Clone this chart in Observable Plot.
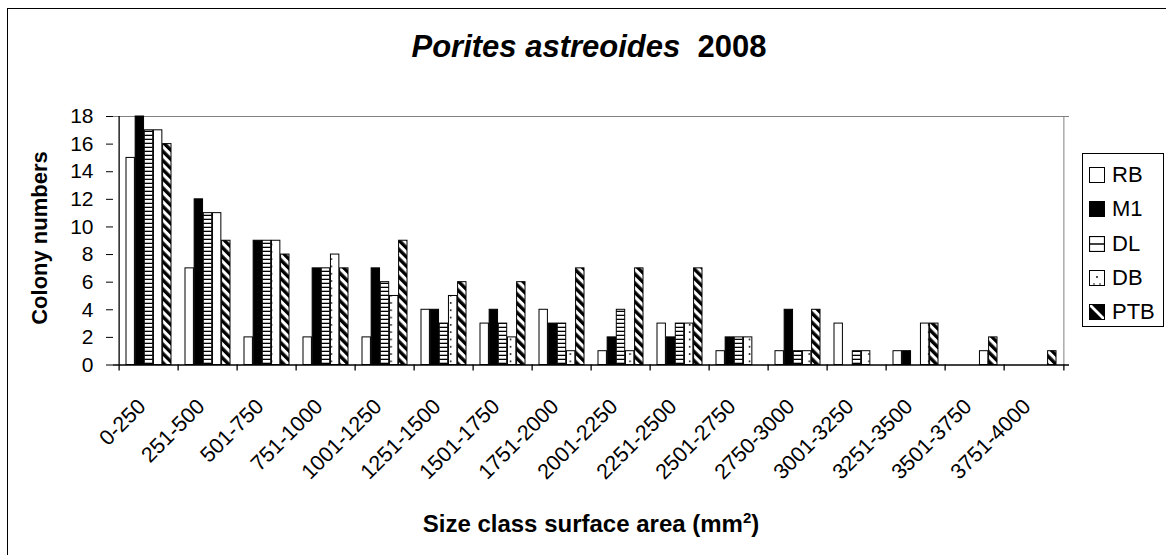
<!DOCTYPE html>
<html>
<head>
<meta charset="utf-8">
<script src="https://cdn.jsdelivr.net/npm/d3@7"></script>
<script src="https://cdn.jsdelivr.net/npm/@observablehq/plot@0.6"></script>
<style>
  html, body { margin: 0; padding: 0; background: #fff; }
  body { font-family: "Liberation Sans", Arial, sans-serif; color: #000; }
  #wrap { position: relative; width: 1166px; height: 555px; overflow: hidden; background: #fff; }
  #chart { position: absolute; left: 0; top: 0; }
  #border { position: absolute; left: 7px; top: 8px; width: 1180px; height: 580px; border: 1.5px solid #000; box-sizing: border-box; pointer-events: none; }
  #title { position: absolute; top: 31px; left: 0; width: 1178px; text-align: center; font-size: 31px; line-height: 31px; font-weight: bold; white-space: nowrap; }
  #ytitle { position: absolute; left: 40px; top: 238px; transform: translate(-50%, -50%) rotate(-90deg); font-size: 22px; font-weight: bold; white-space: nowrap; }
  #xtitle { position: absolute; left: 0; width: 1182px; top: 512px; text-align: center; font-size: 24px; line-height: 24px; font-weight: bold; white-space: nowrap; }
  #xtitle sup { font-size: 15px; line-height: 0; vertical-align: 9px; }
  #legend { position: absolute; left: 1082px; top: 153px; width: 82px; height: 174px; border: 1px solid #000; box-sizing: border-box; background: #fff; }
  .lg { position: absolute; left: 6px; height: 22px; font-size: 22px; line-height: 22px; white-space: nowrap; }
  .lg svg { position: absolute; left: 0; top: 3px; }
  .lg span { position: absolute; left: 23px; top: 0; }
</style>
</head>
<body>
<div id="wrap">
  <div id="chart"></div>
  <div id="border"></div>
  <div id="title"><i>Porites astreoides</i>&nbsp; 2008</div>
  <div id="ytitle">Colony numbers</div>
  <div id="xtitle">Size class surface area (mm<sup>2</sup>)</div>
  <div id="legend"></div>
</div>
<script>
// ---- data ----
const categories = ["0-250","251-500","501-750","751-1000","1001-1250","1251-1500","1501-1750","1751-2000","2001-2250","2251-2500","2501-2750","2750-3000","3001-3250","3251-3500","3501-3750","3751-4000"];
const seriesNames = ["RB","M1","DL","DB","PTB"];
const RB  = [15, 7, 2, 2, 2, 4, 3, 4, 1, 3, 1, 1, 3, 1, 0, 0];
const M1  = [18,12, 9, 7, 7, 4, 4, 3, 2, 2, 2, 4, 0, 1, 0, 0];
const DL  = [17,11, 9, 7, 6, 3, 3, 3, 4, 3, 2, 1, 1, 0, 0, 0];
const DB  = [17,11, 9, 8, 5, 5, 2, 1, 1, 3, 2, 1, 1, 3, 1, 0];
const PTB = [16, 9, 8, 7, 9, 6, 6, 7, 7, 7, 0, 4, 0, 3, 2, 1];
const yTicks = [0, 2, 4, 6, 8, 10, 12, 14, 16, 18];

const seriesValues = [RB, M1, DL, DB, PTB];
const rows = [];
seriesNames.forEach((s, si) => categories.forEach((c, ci) => rows.push({series: s, cat: c, value: seriesValues[si][ci]})));

// ---- layout ----
const W = 1166, H = 555, ML = 113, MR = 97, MT = 116, MB = 190.5;
const step = (W - ML - MR) / categories.length;
const groupOff = 7;
const bw = (step - 2 * groupOff) / seriesNames.length;
const fills = ["#fff", "#000", "url(#pDL)", "url(#pDB)", "url(#pPTB)"];

const marks = [
  Plot.ruleY([18], {stroke: "#808080", strokeWidth: 1}),
  Plot.ruleX([categories[categories.length - 1]], {dx: step / 2, stroke: "#808080", strokeWidth: 1})
];
seriesNames.forEach((s, i) => {
  marks.push(Plot.barY(rows.filter(d => d.series === s && d.value > 0), {
    x: "cat", y: "value", fill: fills[i], stroke: "#000", strokeWidth: 1,
    insetLeft: groupOff + bw * i, insetRight: step - groupOff - bw * (i + 1)
  }));
});
marks.push(
  Plot.ruleY([0], {stroke: "#000", strokeWidth: 1.3}),
  Plot.ruleX([categories[0]], {dx: -step / 2, stroke: "#000", strokeWidth: 1.3}),
  Plot.ruleX(categories, {x: d => d, dx: -step / 2, y1: 0, y2: 0, insetBottom: -6, stroke: "#000", strokeWidth: 1.3}),
  Plot.ruleX([categories[categories.length - 1]], {dx: step / 2, y1: 0, y2: 0, insetBottom: -6, stroke: "#000", strokeWidth: 1.3}),
  Plot.axisY({ticks: yTicks, tickSize: 7, tickPadding: 13, fontSize: 21, label: null, tickFormat: d => String(d)}),
  Plot.text(categories, {x: d => d, y: 0, text: d => d, rotate: -45, textAnchor: "end", dx: -7, dy: 38, fontSize: 21.5, fill: "#000"})
);

const svg = Plot.plot({
  width: W, height: H,
  marginLeft: ML, marginRight: MR, marginTop: MT, marginBottom: MB,
  style: {fontFamily: "Liberation Sans, Arial, sans-serif", background: "transparent", color: "#000", overflow: "visible"},
  x: {type: "band", domain: categories, padding: 0, label: null, axis: null},
  y: {domain: [0, 18], label: null},
  marks
});

// pattern definitions
const dbX = (((ML + groupOff + 3.5 * bw) % step) + step) % step;
svg.insertAdjacentHTML("afterbegin", `
<defs>
  <pattern id="pDL" patternUnits="userSpaceOnUse" width="12" height="4">
    <rect width="12" height="4" fill="#fff"/>
    <rect y="2.7" width="12" height="1.3" fill="#000"/>
  </pattern>
  <pattern id="pDB" patternUnits="userSpaceOnUse" width="${step}" height="7.3">
    <rect width="${step}" height="7.3" fill="#fff"/>
    <circle cx="${dbX}" cy="3.6" r="0.9" fill="#000"/>
  </pattern>
  <pattern id="pPTB" patternUnits="userSpaceOnUse" width="6.5" height="6.5" patternTransform="rotate(-45)">
    <rect width="6.5" height="6.5" fill="#fff"/>
    <rect width="3.4" height="6.5" fill="#000"/>
  </pattern>
</defs>`);
document.getElementById("chart").appendChild(svg);

// legend
const legend = document.getElementById("legend");
const swatch = [
  `<rect x="0.5" y="0.5" width="15" height="15" fill="#fff" stroke="#000"/>`,
  `<rect x="0.5" y="0.5" width="15" height="15" fill="#000" stroke="#000"/>`,
  `<rect x="0.5" y="0.5" width="15" height="15" fill="#fff" stroke="#000" stroke-width="1.2"/><line x1="0" x2="16" y1="8" y2="8" stroke="#000" stroke-width="1.5"/>`,
  `<rect x="0.5" y="0.5" width="15" height="15" fill="#fff" stroke="#000"/><circle cx="8" cy="7" r="0.9"/><circle cx="5" cy="14" r="0.8"/><circle cx="11" cy="14" r="0.8"/>`,
  `<rect x="0.5" y="0.5" width="15" height="15" fill="#000" stroke="#000"/><path d="M3,1 L15,13 L15,15 L13,15 L1,3 L1,1 Z" fill="#fff"/>`
];
seriesNames.forEach((s, i) => {
  const d = document.createElement("div");
  d.className = "lg";
  d.style.top = (10 + 34.3 * i) + "px";
  d.innerHTML = `<svg width="16" height="16" viewBox="0 0 16 16">${swatch[i]}</svg><span>${s}</span>`;
  legend.appendChild(d);
});
</script>
</body>
</html>
